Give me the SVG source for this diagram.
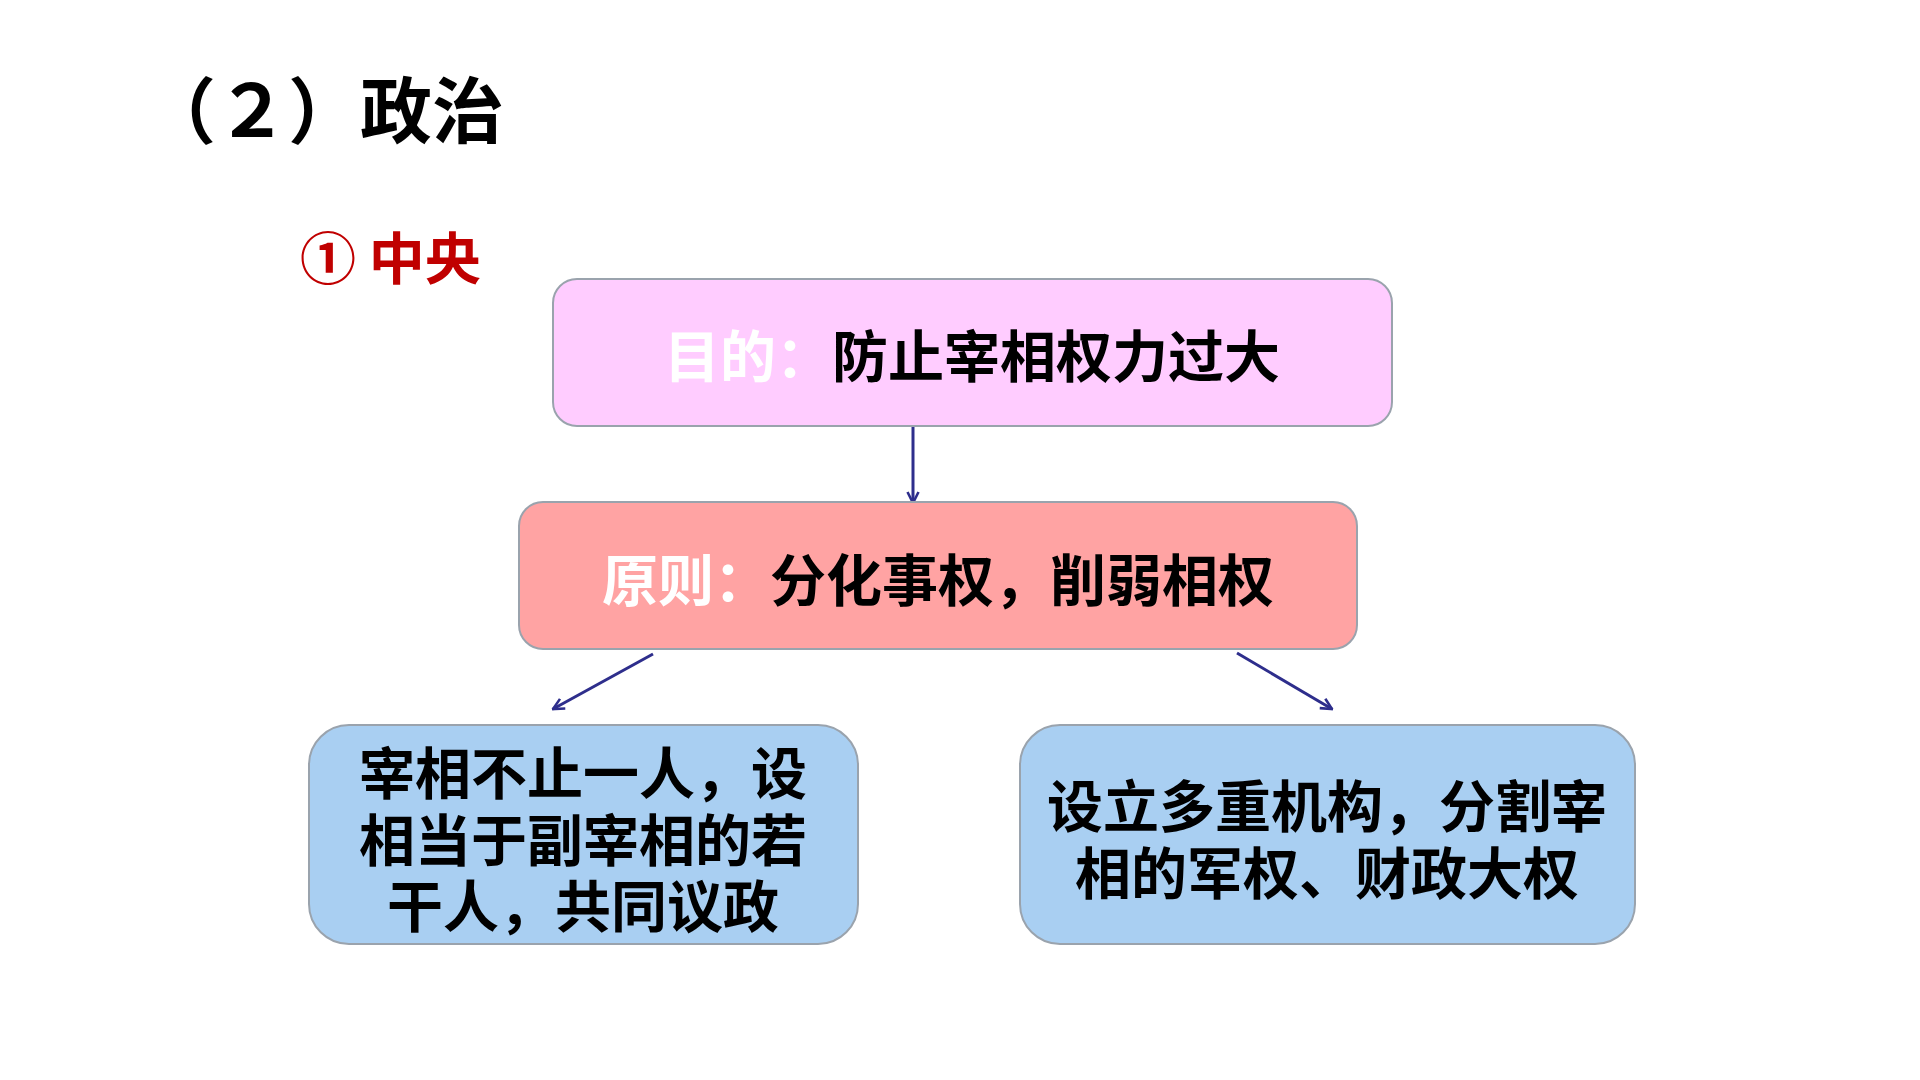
<svg xmlns="http://www.w3.org/2000/svg" width="1920" height="1080" viewBox="0 0 1920 1080">
<style>
.t{font-family:"Noto Sans CJK SC","Liberation Sans",sans-serif;font-weight:bold;}
.box{stroke:#9AA3AD;stroke-width:2;}
.lbl{font-size:56px;fill:#000;text-anchor:middle;}
.w{fill:#FFFFFF;}
.conn{stroke:#2E2E8C;stroke-width:3;fill:none;marker-end:url(#ah);}
</style>
<defs>
<marker id="ah" viewBox="0 0 14 14" refX="12.5" refY="7" markerWidth="14" markerHeight="14" markerUnits="userSpaceOnUse" orient="auto">
<path d="M1.5,1.5 L12.5,7 L1.5,12.5" fill="none" stroke="#2E2E8C" stroke-width="2.6"/>
</marker>
</defs>
<rect width="1920" height="1080" fill="#FFFFFF"/>
<text class="t" x="144" y="137" font-size="72" fill="#000">（２）政治</text>
<text class="t" x="300" y="279" font-size="56" fill="#C00000">① 中央</text>
<g id="connectors">
<line class="conn" x1="913" y1="427" x2="913" y2="503"/>
<line class="conn" x1="653" y1="654" x2="553" y2="709"/>
<line class="conn" x1="1237" y1="653" x2="1332" y2="709"/>
</g>
<g id="purpose">
<rect class="box" x="553" y="279" width="839" height="147" rx="24" fill="#FFCCFF"/>
<text class="t lbl" x="972" y="377"><tspan class="w">目的：</tspan>防止宰相权力过大</text>
</g>
<g id="principle">
<rect class="box" x="519" y="502" width="838" height="147" rx="24" fill="#FFA3A3"/>
<text class="t lbl" x="938" y="601"><tspan class="w">原则：</tspan>分化事权，削弱相权</text>
</g>
<g id="measure1">
<rect class="box" x="309" y="725" width="549" height="219" rx="40" fill="#A9CFF2"/>
<text class="t lbl" x="583" y="794"><tspan x="583" y="794">宰相不止一人，设</tspan><tspan x="583" y="861">相当于副宰相的若</tspan><tspan x="583" y="927">干人，共同议政</tspan></text>
</g>
<g id="measure2">
<rect class="box" x="1020" y="725" width="615" height="219" rx="40" fill="#A9CFF2"/>
<text class="t lbl" x="1327" y="827"><tspan x="1327" y="827">设立多重机构，分割宰</tspan><tspan x="1327" y="894">相的军权、财政大权</tspan></text>
</g>
</svg>
